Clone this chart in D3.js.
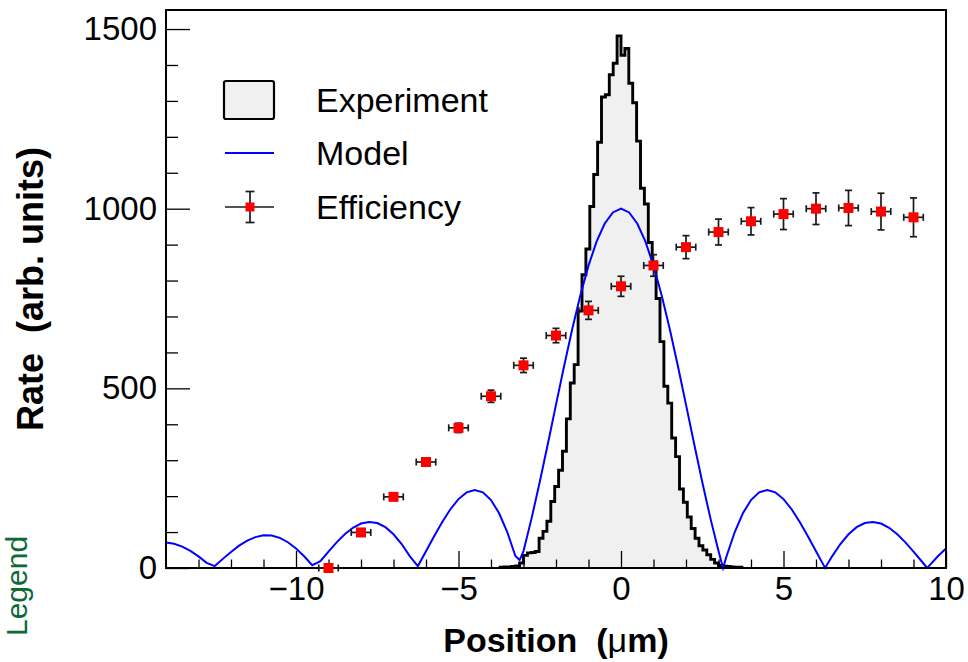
<!DOCTYPE html>
<html><head><meta charset="utf-8">
<script src="https://cdn.jsdelivr.net/npm/d3@7"></script>
<style>
html,body{margin:0;padding:0;background:#fff;}
svg{display:block;font-family:"Liberation Sans",Arial,Helvetica,sans-serif;}
</style></head><body>
<svg id="chart" width="968" height="662"></svg>
<script>
// ---------------- data ----------------
const xDomain = [-14, 10];
const yDomain = [0, 1553];
const xMajorTicks = [-10, -5, 0, 5, 10];
const xTickLabels = ["\u221210", "\u22125", "0", "5", "10"];
const xMinorTicks = [-13, -12, -11, -9, -8, -7, -6, -4, -3, -2, -1, 1, 2, 3, 4, 6, 7, 8, 9];
const yMajorTicks = [0, 500, 1000, 1500];
const yTickLabels = ["0", "500", "1000", "1500"];
const yMinorTicks = [100, 200, 300, 400, 600, 700, 800, 900, 1100, 1200, 1300, 1400];

const histBinWidth = 0.12;
const histCenters = [-3.66, -3.54, -3.42, -3.30, -3.18, -3.06, -2.94, -2.82, -2.70, -2.58,
  -2.46, -2.34, -2.22, -2.10, -1.98, -1.86, -1.74, -1.62, -1.50, -1.38,
  -1.26, -1.14, -1.02, -0.90, -0.78, -0.66, -0.54, -0.42, -0.30, -0.18, -0.06,
  0.06, 0.18, 0.30, 0.42, 0.54, 0.66, 0.78, 0.90, 1.02, 1.14,
  1.26, 1.38, 1.50, 1.62, 1.74, 1.86, 1.98, 2.10, 2.22, 2.34,
  2.46, 2.58, 2.70, 2.82, 2.94, 3.06, 3.18, 3.30, 3.42, 3.54, 3.66];
const histCounts = [2, 3, 3, 4, 6, 14, 35, 42, 43, 46,
  83, 102, 130, 185, 227, 272, 325, 415, 515, 566,
  715, 816, 888, 1006, 1095, 1185, 1311, 1317, 1373, 1405, 1481,
  1427, 1446, 1349, 1295, 1188, 1057, 1013, 906, 852, 750,
  630, 506, 459, 362, 310, 220, 183, 142, 110, 83,
  62, 50, 37, 24, 14, 7, 5, 4, 3, 2, 2];

const modelX = [-14, -13.75, -13.5, -13.25, -13, -12.75, -12.5, -12.25, -12, -11.75, -11.5, -11.25,
  -11, -10.75, -10.5, -10.25, -10, -9.75, -9.5, -9.25, -9, -8.75, -8.5, -8.25,
  -8, -7.75, -7.5, -7.25, -7, -6.75, -6.5, -6.25, -6, -5.75, -5.5, -5.25,
  -5, -4.75, -4.5, -4.25, -4, -3.75, -3.5, -3.25, -3.12, -3, -2.75, -2.5, -2.25,
  -2, -1.75, -1.5, -1.25, -1, -0.75, -0.5, -0.25, 0,
  0.25, 0.5, 0.75, 1, 1.25, 1.5, 1.75, 2, 2.25, 2.5, 2.75, 3, 3.14, 3.25,
  3.5, 3.75, 4, 4.25, 4.5, 4.75, 5, 5.25, 5.5, 5.75, 6, 6.25, 6.28, 6.5,
  6.75, 7, 7.25, 7.5, 7.75, 8, 8.25, 8.5, 8.75, 9, 9.25, 9.42, 9.5, 9.75, 10];
const modelY = [70.8, 67.3, 59.5, 47.7, 32.3, 14.3, 5.3, 25.4, 44.7, 62.1, 76.1, 86.0,
  90.9, 90.2, 83.8, 71.7, 54.4, 32.8, 7.9, 18.8, 45.8, 71.4, 93.9, 111.8,
  123.7, 128.3, 125.1, 113.6, 93.9, 66.7, 33.1, 5.3, 46.6, 88.4, 128.3, 163.6,
  191.8, 210.4, 217.2, 210.6, 189.2, 152.4, 100.2, 33.3, 22, 47.0, 138.8, 239.4, 345.8,
  454.6, 562.3, 665.0, 759.2, 841.5, 908.9, 958.9, 989.6, 1000,
  989.6, 958.9, 908.9, 841.5, 759.2, 665.0, 562.3, 454.6, 345.8, 239.4, 138.8, 47.0, 0, 33.3,
  100.2, 152.4, 189.2, 210.6, 217.2, 210.4, 191.8, 163.6, 128.3, 88.4, 46.6, 5.3, 0, 33.1,
  66.7, 93.9, 113.6, 125.1, 128.3, 123.7, 111.8, 93.9, 71.4, 45.8, 18.8, 0, 7.9, 32.8, 54.4];

const effX = [-9, -8, -7, -6, -5, -4, -3, -2, -1, 0, 1, 2, 3, 4, 5, 6, 7, 8, 9];
const effY = [0, 99, 198, 295, 390, 478, 564, 647, 717, 784, 842, 893, 935, 965, 985, 1000, 1002, 992, 976];
const effErrX = [0.3, 0.3, 0.3, 0.3, 0.3, 0.3, 0.3, 0.3, 0.3, 0.3, 0.3, 0.3, 0.3, 0.3, 0.3, 0.3, 0.3, 0.3, 0.3];
const effErrY = [0, 5, 8, 10, 13, 17, 20, 20, 25, 28, 30, 32, 36, 38, 43, 44, 49, 51, 54];

const legendLabels = ["Experiment", "Model", "Efficiency"];
const xTitleMain = "Position  (";
const xTitleMu = "\u03bc";
const xTitleEnd = "m)";
const yTitle = "Rate  (arb. units)";
const sideLabel = "Legend";

// ---------------- drawing ----------------
const svg = d3.select("#chart");
const L = 166, R = 946, T = 10, B = 568;
const x = d3.scaleLinear().domain(xDomain).range([L, R]);
const y = d3.scaleLinear().domain(yDomain).range([B, T]);

// histogram
const histPts = [];
histCenters.forEach((c, i) => {
  const lo = c - histBinWidth / 2, hi = c + histBinWidth / 2;
  if (i === 0) histPts.push([lo, 0]);
  histPts.push([lo, histCounts[i]]);
  histPts.push([hi, histCounts[i]]);
  if (i === histCenters.length - 1) histPts.push([hi, 0]);
});
const histLine = d3.line().x(d => x(d[0])).y(d => y(d[1]));
svg.append("path").attr("d", histLine(histPts))
  .attr("fill", "#f0f0f0").attr("stroke", "#000").attr("stroke-width", 2.9)
  .attr("stroke-linejoin", "miter");

// model
const modelPts = modelX.map((v, i) => [v, modelY[i]]);
svg.append("path").attr("d", d3.line().x(d => x(d[0])).y(d => y(d[1]))(modelPts))
  .attr("fill", "none").attr("stroke", "#0000ff").attr("stroke-width", 2);

// axes
const gx = svg.append("g").attr("transform", `translate(0,${B})`);
gx.call(d3.axisBottom(x).tickValues(xMajorTicks).tickSizeInner(-17).tickSizeOuter(0)
  .tickPadding(9).tickFormat((d, i) => xTickLabels[i]));
const gxm = svg.append("g").attr("transform", `translate(0,${B})`);
gxm.call(d3.axisBottom(x).tickValues(xMinorTicks).tickSizeInner(-8.5).tickSizeOuter(0).tickFormat(""));
const gy = svg.append("g").attr("transform", `translate(${L},0)`);
gy.call(d3.axisLeft(y).tickValues(yMajorTicks).tickSizeInner(-24).tickSizeOuter(0)
  .tickPadding(9).tickFormat((d, i) => yTickLabels[i]));
const gym = svg.append("g").attr("transform", `translate(${L},0)`);
gym.call(d3.axisLeft(y).tickValues(yMinorTicks).tickSizeInner(-12).tickSizeOuter(0).tickFormat(""));
[gx, gxm, gy, gym].forEach(g => {
  g.select(".domain").remove();
  g.selectAll("line").attr("stroke", "#000").attr("stroke-width", 1.3);
  g.selectAll("text").attr("font-size", 33).attr("fill", "#000")
    .attr("font-family", '"Liberation Sans",Arial,sans-serif');
});

// frame
svg.append("rect").attr("x", L).attr("y", T).attr("width", R - L).attr("height", B - T)
  .attr("fill", "none").attr("stroke", "#000").attr("stroke-width", 2);

// efficiency points
const eg = svg.append("g");
const cap = 3.5;
effX.forEach((v, i) => {
  const cx = x(v), cy = y(effY[i]);
  const x0 = x(v - effErrX[i]), x1 = x(v + effErrX[i]);
  const y0 = y(effY[i] - effErrY[i]), y1 = y(effY[i] + effErrY[i]);
  const g = eg.append("g").attr("stroke", "#1a1a1a").attr("stroke-width", 1.7);
  g.append("line").attr("x1", x0).attr("x2", x1).attr("y1", cy).attr("y2", cy);
  g.append("line").attr("x1", x0).attr("x2", x0).attr("y1", cy - cap).attr("y2", cy + cap);
  g.append("line").attr("x1", x1).attr("x2", x1).attr("y1", cy - cap).attr("y2", cy + cap);
  if (effErrY[i] > 0) {
    g.append("line").attr("x1", cx).attr("x2", cx).attr("y1", y0).attr("y2", y1);
    g.append("line").attr("x1", cx - cap).attr("x2", cx + cap).attr("y1", y0).attr("y2", y0);
    g.append("line").attr("x1", cx - cap).attr("x2", cx + cap).attr("y1", y1).attr("y2", y1);
  }
  eg.append("rect").attr("x", cx - 5).attr("y", cy - 5).attr("width", 10).attr("height", 10)
    .attr("fill", "#ff0000");
});

// legend
const lg = svg.append("g");
lg.append("rect").attr("x", 224).attr("y", 81).attr("width", 50).attr("height", 38).attr("rx", 2)
  .attr("fill", "#f0f0f0").attr("stroke", "#000").attr("stroke-width", 2.2);
lg.append("line").attr("x1", 225).attr("x2", 274).attr("y1", 153).attr("y2", 153)
  .attr("stroke", "#0000ff").attr("stroke-width", 2);
const ly = 207;
lg.append("line").attr("x1", 225).attr("x2", 274).attr("y1", ly).attr("y2", ly).attr("stroke", "#1a1a1a").attr("stroke-width", 1.7);
lg.append("line").attr("x1", 250).attr("x2", 250).attr("y1", ly - 15.5).attr("y2", ly + 15.5).attr("stroke", "#1a1a1a").attr("stroke-width", 1.7);
lg.append("line").attr("x1", 245.5).attr("x2", 254.5).attr("y1", ly - 15.5).attr("y2", ly - 15.5).attr("stroke", "#1a1a1a").attr("stroke-width", 1.7);
lg.append("line").attr("x1", 245.5).attr("x2", 254.5).attr("y1", ly + 15.5).attr("y2", ly + 15.5).attr("stroke", "#1a1a1a").attr("stroke-width", 1.7);
lg.append("rect").attr("x", 245.5).attr("y", ly - 4.5).attr("width", 9).attr("height", 9).attr("fill", "#ff0000");
const legendY = [112, 165, 219];
legendLabels.forEach((t, i) => {
  lg.append("text").attr("x", 316).attr("y", legendY[i]).attr("font-size", 34).attr("fill", "#000").text(t);
});

// axis titles
const xt = svg.append("text").attr("x", (L + R) / 2).attr("y", 652).attr("text-anchor", "middle")
  .attr("font-size", 34).attr("font-weight", "bold").attr("fill", "#000")
  .style("white-space", "pre");
xt.append("tspan").text(xTitleMain);
xt.append("tspan").attr("font-weight", "normal").text(xTitleMu);
xt.append("tspan").text(xTitleEnd);

svg.append("text").attr("transform", `translate(43,${(T + B) / 2}) rotate(-90)`)
  .attr("text-anchor", "middle").attr("font-size", 36).attr("font-weight", "bold")
  .attr("fill", "#000").style("white-space", "pre").text(yTitle);

svg.append("text").attr("transform", "translate(27,586) rotate(-90)")
  .attr("text-anchor", "middle").attr("font-size", 30).attr("fill", "#0b6b36").text(sideLabel);
</script>
</body></html>
